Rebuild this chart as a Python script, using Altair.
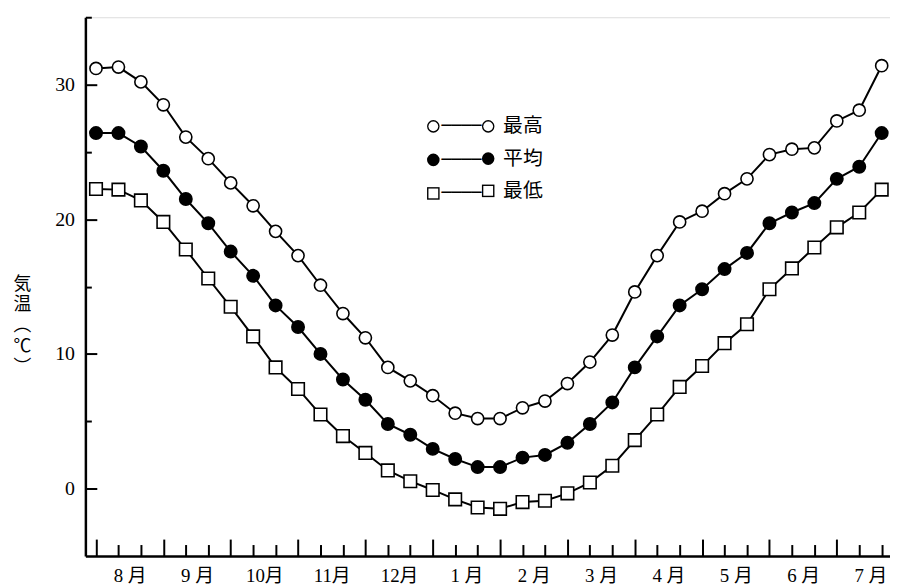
import json
import altair as alt
import pandas as pd

# ---------------- data ----------------
SERIES = ["最高", "平均", "最低"]
MONTHS = ["8 月", "9 月", "10月", "11月", "12月", "1 月", "2 月", "3 月",
          "4 月", "5 月", "6 月", "7 月"]
TEN_DAY = list(range(36))          # 36 ten-day periods (3 per month)

T_MAX = [31.2, 31.3, 30.2, 28.5, 26.1, 24.5, 22.7, 21.0, 19.1, 17.3,
         15.1, 13.0, 11.2, 9.0, 8.0, 6.9, 5.6, 5.2, 5.2, 6.0,
         6.5, 7.8, 9.4, 11.4, 14.6, 17.3, 19.8, 20.6, 21.9, 23.0,
         24.8, 25.2, 25.3, 27.3, 28.1, 31.4]
T_AVG = [26.4, 26.4, 25.4, 23.6, 21.5, 19.7, 17.6, 15.8, 13.6, 12.0,
         10.0, 8.1, 6.6, 4.8, 4.0, 2.95, 2.2, 1.6, 1.6, 2.3,
         2.5, 3.4, 4.8, 6.4, 9.0, 11.3, 13.6, 14.8, 16.3, 17.5,
         19.7, 20.5, 21.2, 23.0, 23.9, 26.4]
T_MIN = [22.25, 22.2, 21.4, 19.8, 17.75, 15.6, 13.5, 11.3, 9.0, 7.4,
         5.5, 3.9, 2.65, 1.35, 0.55, -0.1, -0.8, -1.4, -1.5, -1.0,
         -0.9, -0.35, 0.45, 1.7, 3.6, 5.5, 7.55, 9.1, 10.8, 12.2,
         14.8, 16.35, 17.9, 19.4, 20.5, 22.2]

Y_LABEL_TICKS = [0, 10, 20, 30]
Y_ALL_TICKS = [0, 5, 10, 15, 20, 25, 30, 35]
Y_TITLE = ["気", "温", "︵", "℃", "︶"]
SHAPES = ["circle", "circle", "square"]
FILLS = ["white", "black", "white"]
OUTLINE = ["black", "black", "black"]

rows = []
for name, vals in zip(SERIES, [T_MAX, T_AVG, T_MIN]):
    for i, v in zip(TEN_DAY, vals):
        rows.append({"idx": i, "series": name, "temp": v})
df = pd.DataFrame(rows)

# ---------------- styling ----------------
FONT = "Liberation Serif, 'Noto Sans CJK JP'"
CJK = "'Noto Sans CJK JP', sans-serif"
W, H = 811, 543
X_DOM = [-0.473, 35.37]
Y_DOM = [-5, 35]

month_expr = json.dumps(MONTHS, ensure_ascii=False) + "[floor(datum.value / 3)]"
month_centres = [3 * m + 1.5 for m in range(len(MONTHS))]

xscale = alt.Scale(domain=X_DOM, nice=False, zero=False)
yscale = alt.Scale(domain=Y_DOM, nice=False, zero=False)


def key_legend(side, size, label_expr):
    """Legend piece: 'R' = right-hand markers (+names), 'L' = left markers."""
    if side == "R":
        geo = dict(legendX=396, legendY=100, rowPadding=12.5, labelOffset=5,
                   labelFont=CJK, labelFontSize=20)
    else:
        geo = dict(legendX=342.35, legendY=101.65, rowPadding=15.8,
                   labelOffset=0, labelFont="DejaVu Sans Mono",
                   labelFontSize=16.7)
    extra = {"labelExpr": label_expr} if label_expr is not None else {}
    return alt.Legend(title=None, orient="none", padding=0,
                      direction="vertical", symbolSize=size,
                      symbolStrokeWidth=0, symbolOpacity=1,
                      labelColor="black", **geo, **extra)


base = alt.Chart(df)

lines = base.mark_line(color="black", strokeWidth=2).encode(
    x=alt.X("idx:Q", scale=xscale, axis=alt.Axis(
        orient="bottom", values=month_centres, labelExpr=month_expr,
        ticks=False, tickSize=0, grid=False, title=None,
        labelFont=FONT, labelFontSize=19, labelColor="black", labelPadding=11,
        labelFlush=False, labelOverlap=False,
        domain=True, domainColor="black", domainWidth=2.5)),
    y=alt.Y("temp:Q", scale=yscale, axis=alt.Axis(
        orient="left", values=Y_LABEL_TICKS, ticks=False, tickSize=0,
        grid=False, labelFont=FONT, labelFontSize=20, labelColor="black",
        labelPadding=11, domain=True, domainColor="black", domainWidth=2.5,
        title=Y_TITLE, titleAngle=0, titleX=-64, titleY=269,
        titleAlign="center", titleBaseline="middle", titleLineHeight=21,
        titleFont=CJK, titleFontSize=18, titleFontWeight="normal",
        titleColor="black")),
    detail="series:N",
)

points = base.mark_point(filled=True, opacity=1, stroke="black",
                         strokeWidth=1.6).encode(
    x=alt.X("idx:Q", scale=xscale, axis=alt.Axis(
        orient="top", offset=-H, values=TEN_DAY, labels=False, domain=False,
        grid=False, title=None, tickColor="black", tickWidth=2,
        tickSize={"condition": {"test": "datum.value % 3 === 0", "value": 17},
                  "value": 11.5})),
    y=alt.Y("temp:Q", scale=yscale, axis=alt.Axis(
        orient="right", offset=-W, values=Y_ALL_TICKS, labels=False,
        domain=False, grid=False, title=None, tickColor="black", tickWidth=2,
        tickSize={"condition": {"test": "datum.value % 10 === 0", "value": 11.5},
                  "value": 6})),
    shape=alt.Shape("series:N", scale=alt.Scale(domain=SERIES, range=SHAPES),
                    legend=None),
    fill=alt.Fill("series:N", scale=alt.Scale(domain=SERIES, range=FILLS),
                  legend=None),
    size=alt.Size("series:N", scale=alt.Scale(
        domain=SERIES, range=[150, 160, 180]), legend=None),
)


def key_layer(lg, fills):
    # draws no marks; only supplies a legend built from the scale domains
    return base.transform_filter("false").mark_point(
        filled=True, opacity=1
    ).encode(
        fill=alt.Fill("series:N", scale=alt.Scale(domain=SERIES, range=fills),
                      legend=lg),
        shape=alt.Shape("series:N", scale=alt.Scale(domain=SERIES, range=SHAPES),
                        legend=lg),
    )


# each key marker = black (outer) symbol with a smaller fill-coloured one on top
key_l_outer = key_layer(key_legend("L", 160, "'────'"), OUTLINE)
key_l_inner = key_layer(key_legend("L", 97, "''"), FILLS)
key_r_outer = key_layer(key_legend("R", 160, "''"), OUTLINE)
key_r_inner = key_layer(key_legend("R", 97, None), FILLS)

chart = alt.layer(
    lines, points, key_l_outer, key_l_inner, key_r_outer, key_r_inner
).resolve_scale(
    shape="independent", fill="independent"
).properties(
    width=W, height=H,
    autosize=alt.AutoSizeParams(type="none"),
    padding={"left": 78, "top": 7, "right": 0, "bottom": 30},
).configure_view(stroke=None).configure(background="white")

chart.save("out.html", embed_options={"renderer": "svg", "actions": False})
